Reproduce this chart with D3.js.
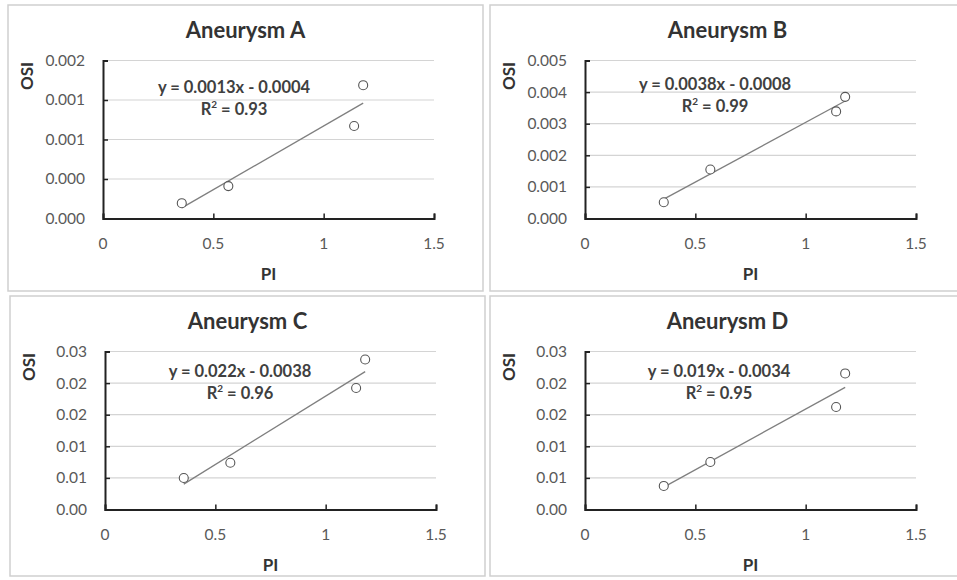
<!DOCTYPE html>
<html>
<head>
<meta charset="utf-8">
<script src="https://cdn.jsdelivr.net/npm/d3@7"></script>
<style>
  body { margin: 0; background: #fff; }
  svg { display: block; font-family: Lato, "Open Sans", sans-serif; }
</style>
</head>
<body>
<svg id="canvas"></svg>
<script>
// Data
const titles = ["Aneurysm A", "Aneurysm B", "Aneurysm C", "Aneurysm D"];
const pi = [0.357, 0.568, 1.138, 1.179];
const osiA = [0.000155, 0.000328, 0.000937, 0.00135];
const osiB = [0.000515, 0.00155, 0.00339, 0.00385];
const osiC = [0.00499, 0.0074, 0.01922, 0.02374];
const osiD = [0.00373, 0.00751, 0.01622, 0.02153];

const equations = ["y = 0.0013x - 0.0004", "y = 0.0038x - 0.0008", "y = 0.022x - 0.0038", "y = 0.019x - 0.0034"];
const rSquared = ["0.93", "0.99", "0.96", "0.95"];

// axis ticks
const xTicks = [0, 0.5, 1, 1.5];
const xTickLabels = ["0", "0.5", "1", "1.5"];
const yTicksA = [0, 0.0004, 0.0008, 0.0012, 0.0016];
const yLabelsA = ["0.000", "0.000", "0.001", "0.001", "0.002"];
const yTicksB = [0, 0.001, 0.002, 0.003, 0.004, 0.005];
const yLabelsB = ["0.000", "0.001", "0.002", "0.003", "0.004", "0.005"];
const yTicksCD = [0, 0.005, 0.01, 0.015, 0.02, 0.025];
const yLabelsCD = ["0.00", "0.01", "0.01", "0.02", "0.02", "0.03"];

const series = [osiA, osiB, osiC, osiD];
const yTickSets = [yTicksA, yTicksB, yTicksCD, yTicksCD];
const yLabelSets = [yLabelsA, yLabelsB, yLabelsCD, yLabelsCD];

// layout
const width = 957, height = 580;
const panels = [
  { x: 8, y: 5, w: 475, h: 286, eq: [226, 88, 110] },
  { x: 490, y: 5, w: 475, h: 286, eq: [225, 85, 107] },
  { x: 10, y: 296, w: 475, h: 280, eq: [230, 81, 103] },
  { x: 490, y: 296, w: 475, h: 280, eq: [229, 81, 103] }
];
const plot = { left: 95, top: 55.5, w: 331, h: 158 };

const svg = d3.select("#canvas")
  .attr("width", width)
  .attr("height", height);

// least squares fit for the trendline
function fit(xs, ys) {
  const mx = d3.mean(xs), my = d3.mean(ys);
  let sxy = 0, sxx = 0;
  xs.forEach((x, i) => { sxy += (x - mx) * (ys[i] - my); sxx += (x - mx) * (x - mx); });
  const m = sxy / sxx;
  return { m: m, b: my - m * mx };
}

panels.forEach((p, k) => {
  const g = svg.append("g").attr("transform", `translate(${p.x},${p.y})`);

  g.append("rect")
    .attr("width", p.w).attr("height", p.h)
    .attr("fill", "#fff")
    .attr("stroke", "#cfcfcf")
    .attr("stroke-width", 1.5);

  const yTicks = yTickSets[k];
  const x = d3.scaleLinear().domain([0, 1.5]).range([plot.left, plot.left + plot.w]);
  const y = d3.scaleLinear().domain([0, d3.max(yTicks)]).range([plot.top + plot.h, plot.top]);

  // gridlines
  g.append("g")
    .selectAll("line")
    .data(yTicks.slice(1))
    .enter()
    .append("line")
    .attr("x1", x(0)).attr("x2", x(1.5))
    .attr("y1", d => y(d)).attr("y2", d => y(d))
    .attr("stroke", "#d4d4d4")
    .attr("stroke-width", 1.2);

  // y axis
  const yAxis = g.append("g")
    .attr("transform", `translate(${x(0)},0)`)
    .call(d3.axisRight(y).tickValues(yTicks).tickSize(5).tickFormat(""));
  yAxis.select(".domain").attr("stroke", "#222").attr("stroke-width", 2);
  yAxis.selectAll(".tick line").attr("stroke", "#222").attr("stroke-width", 1.5);

  g.append("g")
    .selectAll("text")
    .data(yTicks)
    .enter()
    .append("text")
    .attr("x", x(0) - 18)
    .attr("y", d => y(d))
    .attr("dy", "0.35em")
    .attr("text-anchor", "end")
    .attr("fill", "#595959")
    .style("font-size", "15.5px")
    .text((d, i) => yLabelSets[k][i]);

  // x axis
  const xAxis = g.append("g")
    .attr("transform", `translate(0,${y(0)})`)
    .call(d3.axisTop(x).tickValues(xTicks).tickSize(5).tickFormat(""));
  xAxis.select(".domain").attr("stroke", "#222").attr("stroke-width", 2);
  xAxis.selectAll(".tick line").attr("stroke", "#222").attr("stroke-width", 1.5);

  g.append("g")
    .selectAll("text")
    .data(xTicks)
    .enter()
    .append("text")
    .attr("x", d => x(d))
    .attr("y", y(0) + 30)
    .attr("text-anchor", "middle")
    .attr("fill", "#595959")
    .style("font-size", "15.5px")
    .text((d, i) => xTickLabels[i]);

  // trendline
  const ys = series[k];
  const f = fit(pi, ys);
  const x0 = d3.min(pi), x1 = d3.max(pi);
  g.append("line")
    .attr("x1", x(x0)).attr("y1", y(f.m * x0 + f.b))
    .attr("x2", x(x1)).attr("y2", y(f.m * x1 + f.b))
    .attr("stroke", "#7f7f7f")
    .attr("stroke-width", 1.3);

  // points
  g.append("g")
    .selectAll("circle")
    .data(pi)
    .enter()
    .append("circle")
    .attr("cx", d => x(d))
    .attr("cy", (d, i) => y(ys[i]))
    .attr("r", 4.5)
    .attr("fill", "#fff")
    .attr("stroke", "#555")
    .attr("stroke-width", 1.1);

  // titles and labels
  g.append("text")
    .attr("x", p.w / 2).attr("y", 33)
    .attr("text-anchor", "middle")
    .attr("fill", "#333")
    .style("font-size", "22px").style("font-weight", "bold")
    .text(titles[k]);

  g.append("text")
    .attr("x", plot.left + plot.w / 2).attr("y", 275)
    .attr("text-anchor", "middle")
    .attr("fill", "#333")
    .style("font-size", "17px").style("font-weight", "bold")
    .text("PI");

  g.append("text")
    .attr("transform", `translate(19,71) rotate(-90)`)
    .attr("dy", "0.35em")
    .attr("text-anchor", "middle")
    .attr("fill", "#333")
    .style("font-size", "17px").style("font-weight", "bold")
    .text("OSI");

  g.append("text")
    .attr("x", p.eq[0]).attr("y", p.eq[1])
    .attr("text-anchor", "middle")
    .attr("fill", "#404040")
    .style("font-size", "16.5px").style("font-weight", "bold")
    .text(equations[k]);

  const r2 = g.append("text")
    .attr("x", p.eq[0]).attr("y", p.eq[2])
    .attr("text-anchor", "middle")
    .attr("fill", "#404040")
    .style("font-size", "16.5px").style("font-weight", "bold");
  r2.append("tspan").text("R");
  r2.append("tspan").attr("dy", -7).style("font-size", "10px").text("2");
  r2.append("tspan").attr("dy", 7).text(" = " + rSquared[k]);
});
</script>
</body>
</html>
